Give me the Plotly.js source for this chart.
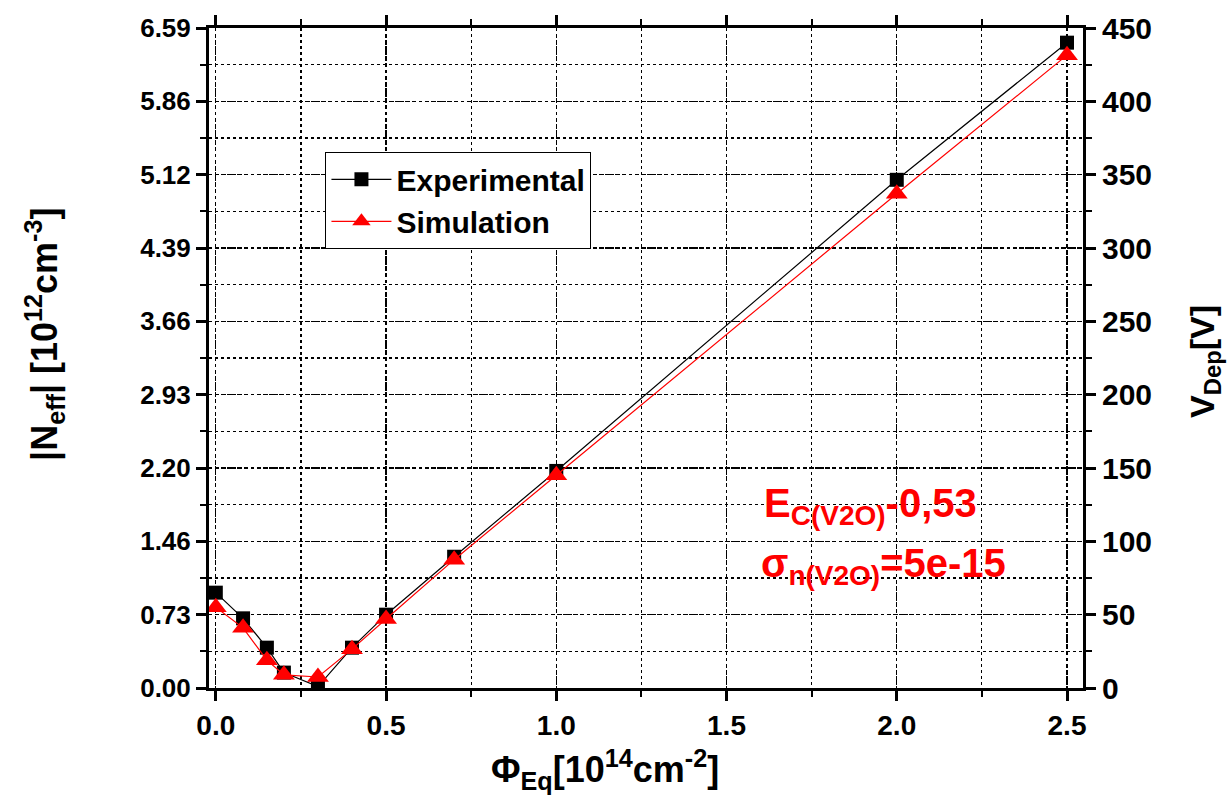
<!DOCTYPE html>
<html>
<head>
<meta charset="utf-8">
<script src="https://cdn.plot.ly/plotly-3.0.1.min.js"></script>
<style>html,body{margin:0;padding:0;background:#fff;}#chart{width:1227px;height:800px;}</style>
</head>
<body>
<div id="chart"></div>
<script>
// Data (fluence in 1e14 cm^-2, depletion voltage in V)
const fluence = [0, 0.08, 0.15, 0.2, 0.3, 0.4, 0.5, 0.7, 1.0, 2.0, 2.5];
const experimental = [65, 47.5, 27.5, 10.5, 1, 27.5, 50, 89.5, 148, 346.5, 440];
const simulation = [55, 41, 19, 9, 7.5, 26.5, 47, 87.5, 145, 337, 431.5];
const rightTicks = [0, 50, 100, 150, 200, 250, 300, 350, 400, 450];
const leftTickLabels = ["0.00", "0.73", "1.46", "2.20", "2.93", "3.66", "4.39", "5.12", "5.86", "6.59"];
const xTicks = [0, 0.5, 1.0, 1.5, 2.0, 2.5];
const xTickLabels = ["0.0", "0.5", "1.0", "1.5", "2.0", "2.5"];

const boldFont = "Liberation Sans, Arial, sans-serif";
const narrowFont = "Liberation Sans Narrow, Liberation Sans, Arial, sans-serif";

const traces = [
  {
    x: fluence, y: experimental, name: "Experimental", type: "scatter", mode: "lines+markers",
    line: {color: "#000000", width: 1.2},
    marker: {symbol: "square", size: 14, color: "#000000"}
  },
  {
    x: fluence, y: simulation, name: "Simulation", type: "scatter", mode: "lines+markers",
    line: {color: "#ff0000", width: 1.2},
    marker: {symbol: "triangle-up", size: 19, color: "#ff0000"}
  },
  {
    x: [null], y: [null], yaxis: "y2", showlegend: false, hoverinfo: "skip", mode: "markers"
  }
];

const gridCommon = {
  showgrid: true, gridcolor: "#000000", gridwidth: 1.3, griddash: "3px,4px",
  linecolor: "#000000", linewidth: 3, showline: true,
  ticks: "outside", ticklen: 10, tickwidth: 3, tickcolor: "#000000",
  zeroline: false
};

const layout = {
  width: 1227, height: 800,
  margin: {l: 209, r: 144, t: 28, b: 112},
  paper_bgcolor: "#ffffff", plot_bgcolor: "#ffffff",
  font: {family: boldFont, color: "#000000"},
  showlegend: true,
  legend: {
    x: 0.133, y: 0.812, xanchor: "left", yanchor: "top",
    bgcolor: "#ffffff", bordercolor: "#000000", borderwidth: 1.2,
    font: {family: boldFont, size: 30, color: "#000000", weight: "bold"},
    itemwidth: 60, tracegroupgap: 0
  },
  xaxis: Object.assign({}, gridCommon, {
    range: [-0.02, 2.547],
    tickvals: xTicks, ticktext: xTickLabels,
    mirror: "ticks",
    tickfont: {family: narrowFont, size: 28, color: "#000000", weight: "bold"},
    minor: {dtick: 0.25, tick0: 0, ticks: "outside", ticklen: 6, tickwidth: 2, tickcolor: "#000000",
            showgrid: true, gridcolor: "#000000", gridwidth: 1.2, griddash: "dot"}
  }),
  yaxis: Object.assign({}, gridCommon, {
    range: [0, 450],
    tickvals: rightTicks, ticktext: leftTickLabels,
    mirror: true,
    tickfont: {family: boldFont, size: 26, color: "#000000", weight: "bold"},
    minor: {dtick: 25, tick0: 0, ticks: "outside", ticklen: 6, tickwidth: 2, tickcolor: "#000000",
            showgrid: true, gridcolor: "#000000", gridwidth: 1.2, griddash: "dot"}
  }),
  yaxis2: {
    overlaying: "y", side: "right", matches: "y", range: [0, 450],
    tickvals: rightTicks,
    showgrid: false, zeroline: false, showline: true, linecolor: "#000000", linewidth: 3,
    ticks: "outside", ticklen: 10, tickwidth: 3, tickcolor: "#000000",
    minor: {dtick: 25, tick0: 0, ticks: "outside", ticklen: 6, tickwidth: 2, tickcolor: "#000000", showgrid: false},
    tickfont: {family: boldFont, size: 30, color: "#000000", weight: "bold"}
  },
  annotations: [
    {
      xref: "paper", yref: "paper", x: 0.453, y: -0.124, xanchor: "center", yanchor: "middle",
      text: "Φ<sub>Eq</sub>[10<sup>14</sup>cm<sup>-2</sup>]", showarrow: false,
      font: {family: narrowFont, size: 36, color: "#000000", weight: "bold"}
    },
    {
      xref: "paper", yref: "paper", x: -0.1876, y: 0.535, xanchor: "center", yanchor: "middle",
      textangle: -90,
      text: "|N<sub>eff</sub>| [10<sup>12</sup>cm<sup>-3</sup>]", showarrow: false,
      font: {family: boldFont, size: 36, color: "#000000", weight: "bold"}
    },
    {
      xref: "paper", yref: "paper", x: 1.1396, y: 0.494, xanchor: "center", yanchor: "middle",
      textangle: -90,
      text: "V<sub>Dep</sub>[V]", showarrow: false,
      font: {family: boldFont, size: 34, color: "#000000", weight: "bold"}
    },
    {
      xref: "x", yref: "y", x: 1.605, y: 124, xanchor: "left", yanchor: "middle",
      text: "E<sub>C(V2O)</sub>-0,53", showarrow: false,
      font: {family: boldFont, size: 40, color: "#ff0000", weight: "bold"}
    },
    {
      xref: "x", yref: "y", x: 1.595, y: 83, xanchor: "left", yanchor: "middle",
      text: "σ<sub>n(V2O)</sub>=5e-15", showarrow: false,
      font: {family: boldFont, size: 40, color: "#ff0000", weight: "bold"}
    }
  ]
};

Plotly.newPlot("chart", traces, layout, {displayModeBar: false, staticPlot: true});
</script>
</body>
</html>
